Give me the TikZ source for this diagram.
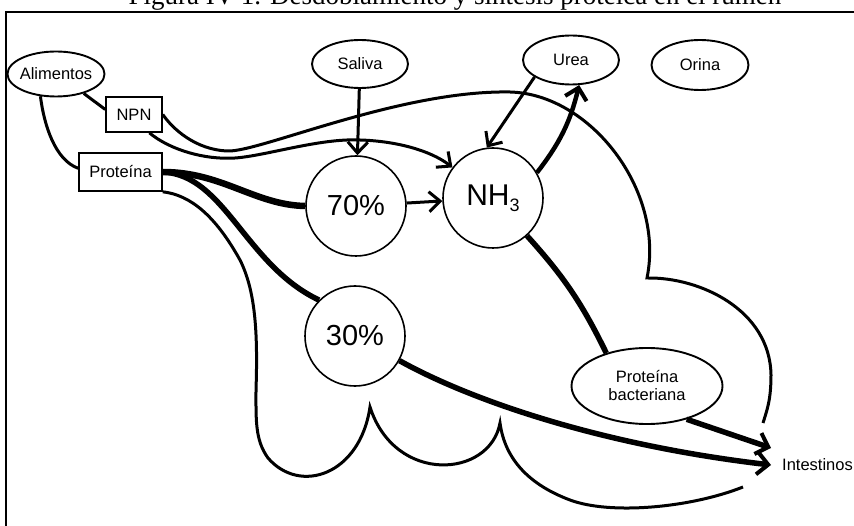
\documentclass[tikz,border=0pt]{standalone}
\usepackage{fontspec}
\setmainfont{Liberation Sans}
\newfontfamily\titlefont{Liberation Serif}
\usetikzlibrary{shapes.geometric,arrows.meta}
\begin{document}
\begin{tikzpicture}[x=1pt,y=1pt,
  lab/.style={font=\fontsize{16.5}{18}\selectfont},
  ell/.style={ellipse,draw,line width=1.9pt,inner sep=0pt,lab},
  box/.style={rectangle,draw,line width=1.6pt,inner sep=0pt,lab},
  circ/.style={circle,draw,line width=1.6pt,inner sep=0pt,minimum size=100pt,font=\fontsize{29}{30}\selectfont},
  medln/.style={line width=3pt},
  heavyln/.style={line width=5.5pt},
  arr/.style={-{Straight Barb[length=11pt,width=20pt]}},
  arrH/.style={-{Straight Barb[length=11pt,width=22pt,line width=4pt]}},
  frame/.style={line width=1.4pt}
]
\clip (0,0) rectangle (854,-526);
\fill[white] (0,0) rectangle (854,-526);

% title (cut off at the top)
\node[font=\titlefont\fontsize{27}{30}\selectfont, anchor=base, inner sep=0pt] (title) at (455,-5) {Figura IV-1. Desdoblamiento y síntesis proteica en el rumen};

% frame
\draw[frame] (6,-526) -- (6,-12) -- (854,-12);

% nodes
\node[ell, minimum width=97pt, minimum height=45pt] (alim) at (56,-74) {\makebox[0pt]{Alimentos}};
\node[box, minimum width=56pt, minimum height=35pt] (npn) at (134,-114.5) {NPN};
\node[box, minimum width=83pt, minimum height=38pt] (prot) at (120.5,-172) {Proteína};
\node[ell, minimum width=96pt, minimum height=48pt] (saliva) at (360,-64) {Saliva};
\node[ell, minimum width=96pt, minimum height=49pt] (urea) at (571,-60) {Urea};
\node[ell, minimum width=97pt, minimum height=50pt] (orina) at (700,-65) {Orina};
\node[circ] (p70) at (356,-206) {70\%};
\node[circ, font=\fontsize{30}{30}\selectfont] (nh3) at (493,-198) {NH\raisebox{-0.35ex}{\fontsize{18}{18}\selectfont 3}};
\node[circ] (p30) at (355,-336) {30\%};
\node[ell, minimum width=151pt, minimum height=76pt, align=center] (pb) at (647,-386) {Proteína\\bacteriana};
\node[lab, anchor=west, inner sep=0pt] (intest) at (782,-465) {Intestinos};
\coordinate (tipA) at (771,-448);
\coordinate (tipB) at (771,-465);

% rumen outline
\draw[medln] (npn.east) .. controls (172,-128) and (195,-150) .. (228,-151)
  .. controls (260,-152) and (400,-90) .. (510,-92)
  .. controls (590,-94) and (665,-190) .. (647,-278)
  .. controls (700,-277) and (770,-310) .. (771,-375)
  .. controls (771,-400) and (767,-410) .. (763,-423);
\draw[medln] (743,-487) .. controls (690,-508) and (610,-515) .. (570,-500)
  .. controls (530,-485) and (505,-460) .. (500,-423)
  .. controls (490,-478) and (395,-485) .. (370,-407)
  .. controls (360,-475) and (300,-495) .. (268,-458)
  .. controls (255,-440) and (256,-420) .. (256,-390)
  .. controls (258,-330) and (255,-290) .. (240,-260)
  .. controls (215,-215) and (190,-195) .. (prot.south east);

% connectors
\draw[medln] (alim.-35) -- (npn.170);
\draw[medln] (alim.-125) .. controls (44,-125) and (55,-160) .. (prot.175);
\draw[medln,arr] (npn.-50) .. controls (170,-150) and (205,-160) .. (235,-158)
  .. controls (265,-156) and (320,-138) .. (360,-140)
  .. controls (395,-141) and (430,-150) .. (nh3.143);
\draw[line width=6.5pt] (prot.east) .. controls (222,-172) and (255,-205) .. (p70.west);
\draw[heavyln] (prot.east) .. controls (225,-175) and (245,-265) .. (p30.135);
\draw[medln,arr] (saliva) -- (p70);
\draw[medln,arr] (p70) -- (nh3);
\draw[medln,arr] (urea.205) -- (nh3.97);
\draw[line width=4.5pt,arrH] (nh3.30) to[bend right=12] (urea.-72);
\draw[heavyln] (nh3.-48) to[bend left=8] (pb.141);
\draw[heavyln,arrH] (pb.-40) -- (tipA);
\draw[heavyln,arrH] (p30.-29) .. controls (470,-400) and (600,-445) .. (tipB);
\end{tikzpicture}
\end{document}
